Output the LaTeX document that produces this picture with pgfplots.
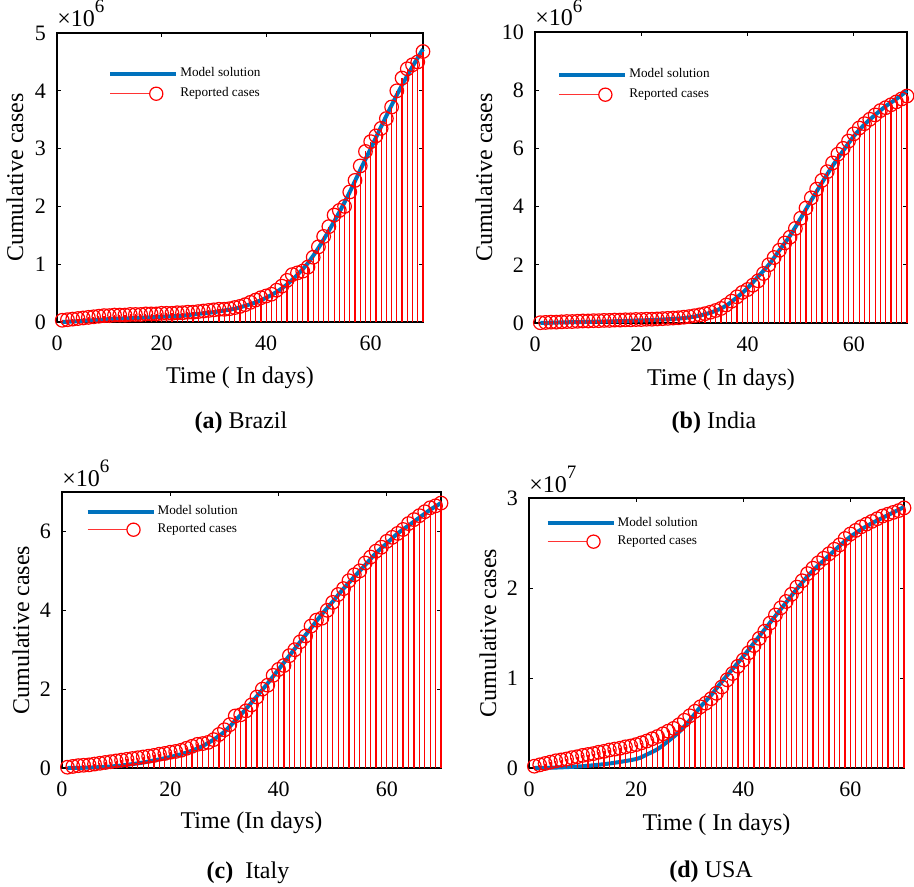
\documentclass[border=0pt]{standalone}
\usepackage{fontspec}
\setmainfont{Liberation Serif}
\usepackage{pgfplots}
\usepackage{pgfplotstable}
\pgfplotsset{compat=1.18}

\definecolor{mblue}{RGB}{0,114,189}

% reported cumulative cases (millions), day 1..70
\pgfplotstableread{
day brazil india italy usa
1  0.03 0.01 0.02 0.2
2  0.04 0.02 0.04 0.35
3  0.05 0.03 0.06 0.5
4  0.06 0.03 0.07 0.65
5  0.07 0.04 0.08 0.8
6  0.08 0.05 0.10 0.9
7  0.09 0.05 0.12 1.0
8  0.10 0.06 0.14 1.15
9  0.11 0.07 0.16 1.25
10 0.11 0.07 0.18 1.4
11 0.12 0.08 0.20 1.5
12 0.12 0.08 0.22 1.6
13 0.12 0.09 0.24 1.75
14 0.13 0.09 0.26 1.85
15 0.13 0.10 0.28 2.0
16 0.13 0.10 0.30 2.1
17 0.14 0.11 0.32 2.2
18 0.14 0.11 0.35 2.35
19 0.14 0.12 0.37 2.45
20 0.15 0.12 0.40 2.6
21 0.15 0.13 0.42 2.8
22 0.15 0.13 0.45 3.0
23 0.16 0.14 0.50 3.25
24 0.16 0.15 0.55 3.5
25 0.17 0.16 0.60 3.8
26 0.17 0.17 0.62 4.1
27 0.18 0.18 0.65 4.4
28 0.19 0.20 0.72 4.8
29 0.20 0.22 0.85 5.3
30 0.21 0.25 0.97 5.8
31 0.22 0.28 1.10 6.3
32 0.22 0.32 1.32 6.8
33 0.23 0.37 1.35 7.2
34 0.25 0.43 1.45 7.7
35 0.27 0.50 1.60 8.3
36 0.30 0.62 1.80 9.0
37 0.34 0.75 2.00 9.8
38 0.38 0.90 2.10 10.5
39 0.42 1.05 2.35 11.3
40 0.45 1.15 2.50 12.0
41 0.48 1.30 2.60 12.8
42 0.55 1.45 2.85 13.6
43 0.62 1.70 3.00 14.4
44 0.72 2.00 3.20 15.2
45 0.82 2.25 3.35 16.1
46 0.85 2.50 3.60 17.0
47 0.88 2.75 3.75 17.8
48 0.95 2.95 3.80 18.5
49 1.12 3.25 4.00 19.3
50 1.30 3.60 4.20 20.1
51 1.48 3.95 4.40 20.8
52 1.65 4.30 4.55 21.6
53 1.85 4.60 4.75 22.2
54 1.93 4.90 4.90 22.8
55 2.00 5.20 5.00 23.3
56 2.25 5.50 5.20 23.8
57 2.45 5.80 5.35 24.3
58 2.70 6.00 5.50 24.8
59 2.95 6.25 5.60 25.5
60 3.12 6.50 5.75 26.0
61 3.22 6.70 5.85 26.4
62 3.35 6.85 5.95 26.8
63 3.52 7.00 6.05 27.1
64 3.72 7.15 6.20 27.4
65 4.00 7.30 6.30 27.7
66 4.22 7.40 6.40 28.0
67 4.38 7.50 6.50 28.2
68 4.45 7.60 6.60 28.4
69 4.50 7.70 6.65 28.6
70 4.68 7.80 6.72 28.9
}\reported

% model solution (millions)
\pgfplotstableread{
day brazil india italy usa
1  0.00 0.00 0.00 0.0
5  0.02 0.02 0.01 0.05
10 0.05 0.04 0.05 0.2
15 0.07 0.06 0.14 0.5
20 0.09 0.09 0.28 1.0
22 0.10 0.10 0.35 1.5
24 0.11 0.12 0.44 2.1
26 0.13 0.14 0.56 3.0
28 0.15 0.17 0.72 4.0
30 0.17 0.22 0.92 5.3
32 0.20 0.30 1.20 6.8
34 0.23 0.42 1.50 8.1
36 0.28 0.60 1.82 9.6
38 0.34 0.88 2.15 11.0
40 0.42 1.20 2.50 12.4
42 0.52 1.60 2.85 13.9
44 0.65 2.00 3.20 15.4
46 0.82 2.50 3.55 16.9
48 1.02 3.00 3.90 18.4
50 1.28 3.60 4.22 19.9
52 1.58 4.22 4.55 21.3
54 1.90 4.82 4.85 22.5
56 2.25 5.40 5.15 23.6
58 2.63 5.92 5.45 24.7
60 3.00 6.42 5.70 25.7
62 3.38 6.82 5.95 26.5
64 3.75 7.15 6.15 27.2
66 4.10 7.45 6.35 27.8
68 4.42 7.70 6.55 28.4
70 4.72 7.98 6.72 29.0
}\model

\pgfplotsset{
  covid/.style={
    scale only axis,
    xmin=0, xmax=70, ymin=0,
    xtick={0,20,40,60},
    tick align=inside, tick pos=both,
    major tick length=2pt,
    clip=false,
    axis line style={line width=0.6pt},
    every tick/.style={black, line width=0.5pt},
    ticklabel style={font=\fontsize{11}{12}\selectfont},
    xticklabel style={yshift=-3.5pt},
    yticklabel style={xshift=-2pt},
    /pgf/number format/assume math mode=true,
    label style={font=\fontsize{12}{14}\selectfont},
    ylabel={Cumulative cases},
    legend style={draw=none, fill=none, anchor=north west, inner sep=0pt,
      font=\fontsize{6.6}{8}\selectfont, row sep=2pt,
      nodes={inner sep=1pt}},
    legend cell align=left,
  },
  modelline/.style={mblue, line width=2pt, smooth, no markers},
  stems/.style={ycomb, red, line width=0.6pt, mark=o, mark size=3.4pt,
    mark options={red, line width=0.6pt, solid}},
}

\newcommand{\legendentries}{%
  \addlegendimage{legend image code/.code={\draw[mblue, line width=2pt] (0pt,0pt) -- (33pt,0pt);}}
  \addlegendentry{Model solution}
  \addlegendimage{legend image code/.code={\draw[red!80, line width=0.7pt] (0pt,0pt) -- (19.7pt,0pt);
      \draw[red, line width=0.6pt] (23pt,0pt) circle (3.3pt);}}
  \addlegendentry{Reported cases}
}
\newcommand{\scalelabel}[2]{%
  \node[anchor=base west, inner sep=0pt, font=\fontsize{12}{12}\selectfont]
    at (rel axis cs:0,1) [yshift=#1] {×10\raisebox{0.55em}{\fontsize{9.5}{9.5}\selectfont #2}};}

\begin{document}
\begin{tikzpicture}
\useasboundingbox (0,0) rectangle (457pt,-443.5pt);

% (a) Brazil
\begin{axis}[covid, at={(28.5pt,-161pt)}, anchor=south west,
  width=183pt, height=144.5pt, ymax=5, ytick={0,1,2,3,4,5},
  xlabel={Time ( In days)},
  x label style={at={(axis description cs:0.5,0)}, anchor=center, yshift=-28pt},
  y label style={at={(axis description cs:0,0.5)}, anchor=center, yshift=21pt},
  legend style={at={(0.139,0.889)}}]
\legendentries
\addplot[modelline, forget plot] table[x=day, y=brazil] {\model};
\addplot[stems, forget plot] table[x=day, y=brazil] {\reported};
\scalelabel{3.5pt}{6}
\end{axis}

% (b) India
\begin{axis}[covid, at={(267.5pt,-161.5pt)}, anchor=south west,
  width=186pt, height=145.5pt, ymax=10, ytick={0,2,4,6,8,10},
  xlabel={Time ( In days)},
  x label style={at={(axis description cs:0.5,0)}, anchor=center, yshift=-28.5pt},
  y label style={at={(axis description cs:0,0.5)}, anchor=center, yshift=25.5pt},
  legend style={at={(0.059,0.883)}}]
\legendentries
\addplot[modelline, forget plot] table[x=day, y=india] {\model};
\addplot[stems, forget plot] table[x=day, y=india] {\reported};
\scalelabel{3pt}{6}
\end{axis}

% (c) Italy
\begin{axis}[covid, at={(31pt,-384pt)}, anchor=south west,
  width=189.5pt, height=138pt, ymax=7, ytick={0,2,4,6},
  xlabel={Time (In days)},
  x label style={at={(axis description cs:0.5,0)}, anchor=center, yshift=-27.5pt},
  y label style={at={(axis description cs:0,0.5)}, anchor=center, yshift=20.5pt},
  legend style={at={(0.061,0.96)}, row sep=1pt}]
\legendentries
\addplot[modelline, forget plot] table[x=day, y=italy] {\model};
\addplot[stems, forget plot] table[x=day, y=italy] {\reported};
\scalelabel{3pt}{6}
\end{axis}

% (d) USA
\begin{axis}[covid, at={(264.5pt,-384pt)}, anchor=south west,
  width=187.5pt, height=135pt, ymax=30, ytick={0,10,20,30},
  yticklabels={0,1,2,3},
  xlabel={Time ( In days)},
  x label style={at={(axis description cs:0.5,0)}, anchor=center, yshift=-28.5pt},
  y label style={at={(axis description cs:0,0.5)}, anchor=center, yshift=20.5pt},
  legend style={at={(0.043,0.937)}, row sep=1pt}]
\legendentries
\addplot[modelline, forget plot] table[x=day, y=usa] {\model};
\addplot[stems, forget plot] table[x=day, y=usa] {\reported};
\scalelabel{3pt}{7}
\end{axis}

\node[font=\fontsize{12}{14}\selectfont] at (120.5pt,-211.5pt) {\textbf{(a)} Brazil};
\node[font=\fontsize{12}{14}\selectfont] at (357pt,-211.5pt) {\textbf{(b)} India};
\node[font=\fontsize{12}{14}\selectfont] at (124pt,-436.5pt) {\textbf{(c)}\ \ Italy};
\node[font=\fontsize{12}{14}\selectfont] at (355.5pt,-436pt) {\textbf{(d)} USA};
\end{tikzpicture}
\end{document}
